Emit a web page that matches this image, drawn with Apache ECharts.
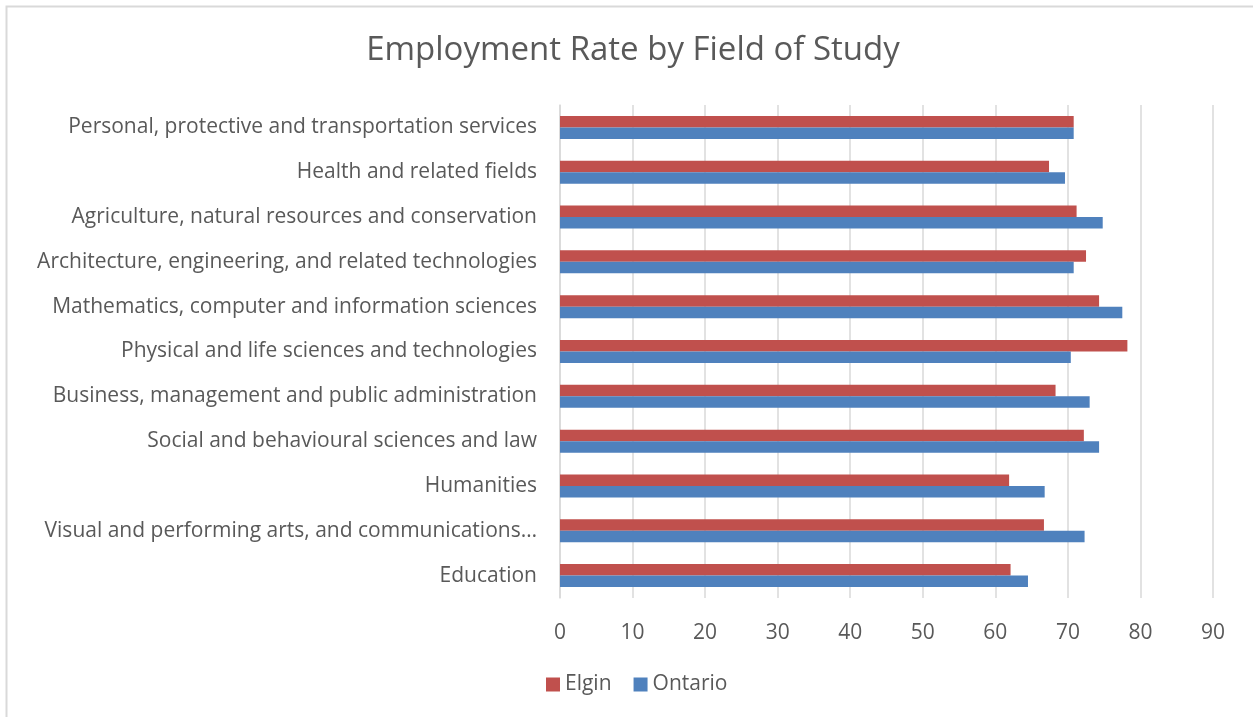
<!DOCTYPE html>
<html>
<head>
<meta charset="utf-8">
<script src="https://cdn.jsdelivr.net/npm/echarts@6/dist/echarts.min.js"></script>
<style>
  html, body { margin: 0; padding: 0; background: #fff; }
  #chart { width: 1253px; height: 717px; }
</style>
</head>
<body>
<div id="chart"></div>
<script>
// Fields of study, listed bottom to top as they appear on the category axis
const fields = [
  'Education',
  'Visual and performing arts, and communications\u2026',
  'Humanities',
  'Social and behavioural sciences and law',
  'Business, management and public administration',
  'Physical and life sciences and technologies',
  'Mathematics, computer and information sciences',
  'Architecture, engineering, and related technologies',
  'Agriculture, natural resources and conservation',
  'Health and related fields',
  'Personal, protective and transportation services'
];

// Employment rate (%)
const elgin   = [62.1, 66.7, 61.9, 72.2, 68.3, 78.2, 74.3, 72.5, 71.2, 67.4, 70.8];
const ontario = [64.5, 72.3, 66.8, 74.3, 73.0, 70.4, 77.5, 70.8, 74.8, 69.6, 70.8];

const xTicks = [0, 10, 20, 30, 40, 50, 60, 70, 80, 90];

const textColor = '#595959';
const gridColor = '#d9d9d9';
const fontFamily = '"Open Sans", "Noto Sans", sans-serif';

const chart = echarts.init(document.getElementById('chart'), null, { renderer: 'canvas' });

chart.setOption({
  backgroundColor: '#ffffff',
  animation: false,
  textStyle: { fontFamily: fontFamily, color: textColor },
  graphic: [{
    type: 'rect',
    shape: { x: 6.5, y: 6.5, width: 1400, height: 900 },
    style: { fill: 'none', stroke: gridColor, lineWidth: 2 },
    silent: true,
    z: -10
  }],
  title: {
    text: 'Employment Rate by Field of Study',
    left: 628,
    textAlign: 'center',
    top: 29,
    textStyle: { fontFamily: fontFamily, fontSize: 33, fontWeight: 'normal', color: textColor }
  },
  legend: {
    bottom: 17,
    left: 541,
    itemWidth: 14,
    itemHeight: 14,
    itemGap: 22,
    icon: 'rect',
    textStyle: { fontFamily: fontFamily, fontSize: 21, color: textColor },
    data: ['Elgin', 'Ontario']
  },
  grid: {
    left: 560,
    right: 40,
    top: 105,
    bottom: 119,
    containLabel: false
  },
  xAxis: {
    type: 'value',
    min: xTicks[0],
    max: xTicks[xTicks.length - 1],
    interval: 10,
    axisLine: { show: false },
    axisTick: { show: false },
    axisLabel: { fontFamily: fontFamily, fontSize: 21, color: textColor, margin: 25 },
    splitLine: { show: true, lineStyle: { color: gridColor, width: 1.5 } }
  },
  yAxis: {
    type: 'category',
    data: fields,
    axisLine: { show: true, lineStyle: { color: gridColor, width: 1.5 } },
    axisTick: { show: false },
    axisLabel: { fontFamily: fontFamily, fontSize: 21, color: textColor, margin: 23 }
  },
  series: [
    {
      name: 'Elgin',
      type: 'bar',
      data: elgin,
      barWidth: 11.5,
      barGap: '0%',
      barCategoryGap: '49%',
      itemStyle: { color: '#c0504d' }
    },
    {
      name: 'Ontario',
      type: 'bar',
      data: ontario,
      barWidth: 11.5,
      barGap: '0%',
      barCategoryGap: '49%',
      itemStyle: { color: '#4f81bd' }
    }
  ]
});
</script>
</body>
</html>
